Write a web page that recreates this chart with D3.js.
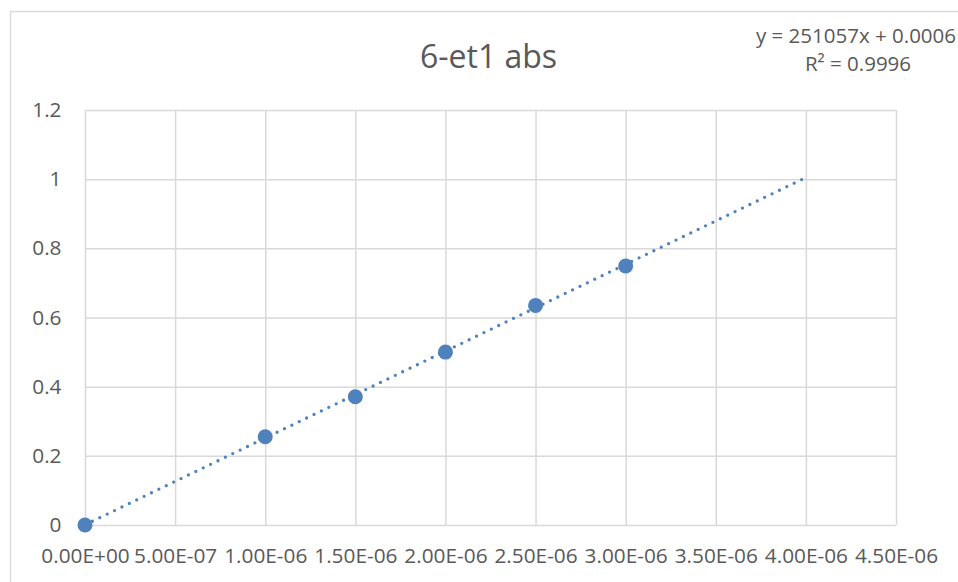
<!DOCTYPE html>
<html>
<head>
<meta charset="utf-8">
<script src="https://cdn.jsdelivr.net/npm/d3@7"></script>
<style>
  html, body { margin: 0; padding: 0; background: #fff; }
  svg { display: block; font-family: "Open Sans", "Noto Sans", sans-serif; }
</style>
</head>
<body>
<svg id="chart" width="958" height="582"></svg>
<script>
// Concentration (M) and measured absorbance
const concentrations = [0, 1.0e-6, 1.5e-6, 2.0e-6, 2.5e-6, 3.0e-6];
const absorbances = [0, 0.255, 0.371, 0.500, 0.635, 0.749];

// Axis ticks
const xTicks = [0, 5e-7, 1e-6, 1.5e-6, 2e-6, 2.5e-6, 3e-6, 3.5e-6, 4e-6, 4.5e-6];
const yTicks = [0, 0.2, 0.4, 0.6, 0.8, 1, 1.2];

// Linear trendline as reported on the chart
const trendSlope = 251057;
const trendIntercept = 0.0006;
const trendRange = [0, 4e-6];
const trendLabel = "y = 251057x + 0.0006";
const r2Label = "R\u00B2 = 0.9996";
const title = "6-et1 abs";

const svg = d3.select("#chart");
const plot = { left: 85, right: 896, top: 110, bottom: 525 };

const x = d3.scaleLinear().domain([0, 4.5e-6]).range([plot.left, plot.right]);
const y = d3.scaleLinear().domain([0, 1.2]).range([plot.bottom, plot.top]);

const gridColor = "#d9d9d9";
const textColor = "#595959";
const markColor = "#4f81bd";
const labelSize = 20.8;

// Chart frame
svg.append("rect")
  .attr("x", 10.5).attr("y", 11.5)
  .attr("width", 1200).attr("height", 1200)
  .attr("fill", "#fff")
  .attr("stroke", gridColor).attr("stroke-width", 1.3);

// Scientific notation like 5.00E-07
function sci(d) {
  const s = d.toExponential(2);
  const [m, e] = s.split("e");
  const sign = e[0] === "-" ? "-" : "+";
  const digits = e.replace(/[+-]/, "").padStart(2, "0");
  return m + "E" + sign + digits;
}

// Vertical gridlines and x labels
const xAxis = svg.append("g")
  .attr("transform", `translate(0,${plot.bottom})`)
  .call(d3.axisBottom(x).tickValues(xTicks).tickFormat(sci)
    .tickSizeInner(-(plot.bottom - plot.top)).tickSizeOuter(0).tickPadding(23.5));
xAxis.select(".domain").remove();
xAxis.selectAll("line").attr("stroke", gridColor).attr("stroke-width", 1.5);
xAxis.selectAll("text").attr("fill", textColor).attr("font-size", labelSize);

// Horizontal gridlines and y labels
const yAxis = svg.append("g")
  .attr("transform", `translate(${plot.left},0)`)
  .call(d3.axisLeft(y).tickValues(yTicks).tickFormat(d3.format("~g"))
    .tickSizeInner(-(plot.right - plot.left)).tickSizeOuter(0).tickPadding(23.5));
yAxis.select(".domain").remove();
yAxis.selectAll("line").attr("stroke", gridColor).attr("stroke-width", 1.5);
yAxis.selectAll("text").attr("fill", textColor).attr("font-size", labelSize);
svg.selectAll(".tick text").attr("font-family", "'Open Sans', 'Noto Sans', sans-serif");

// Dotted trendline
const trendPts = trendRange.map(v => [v, trendSlope * v + trendIntercept]);
svg.append("path")
  .datum(trendPts)
  .attr("d", d3.line().x(d => x(d[0])).y(d => y(d[1])))
  .attr("fill", "none")
  .attr("stroke", markColor)
  .attr("stroke-width", 3.3)
  .attr("stroke-linecap", "round")
  .attr("stroke-dasharray", "0 8.2");

// Data markers
svg.append("g").selectAll("circle")
  .data(concentrations.map((c, i) => [c, absorbances[i]]))
  .join("circle")
  .attr("cx", d => x(d[0]))
  .attr("cy", d => y(d[1]))
  .attr("r", 7.5)
  .attr("fill", markColor);

// Title
svg.append("text")
  .attr("x", 488.5).attr("y", 67.5)
  .attr("text-anchor", "middle")
  .attr("fill", textColor)
  .attr("font-size", 32)
  .text(title);

// Trendline equation
const eq = svg.append("g")
  .attr("fill", textColor)
  .attr("font-size", 20.5)
  .attr("text-anchor", "middle");
eq.append("text").attr("x", 856).attr("y", 43.3).text(trendLabel);
eq.append("text").attr("x", 858).attr("y", 70.7).text(r2Label);
</script>
</body>
</html>
